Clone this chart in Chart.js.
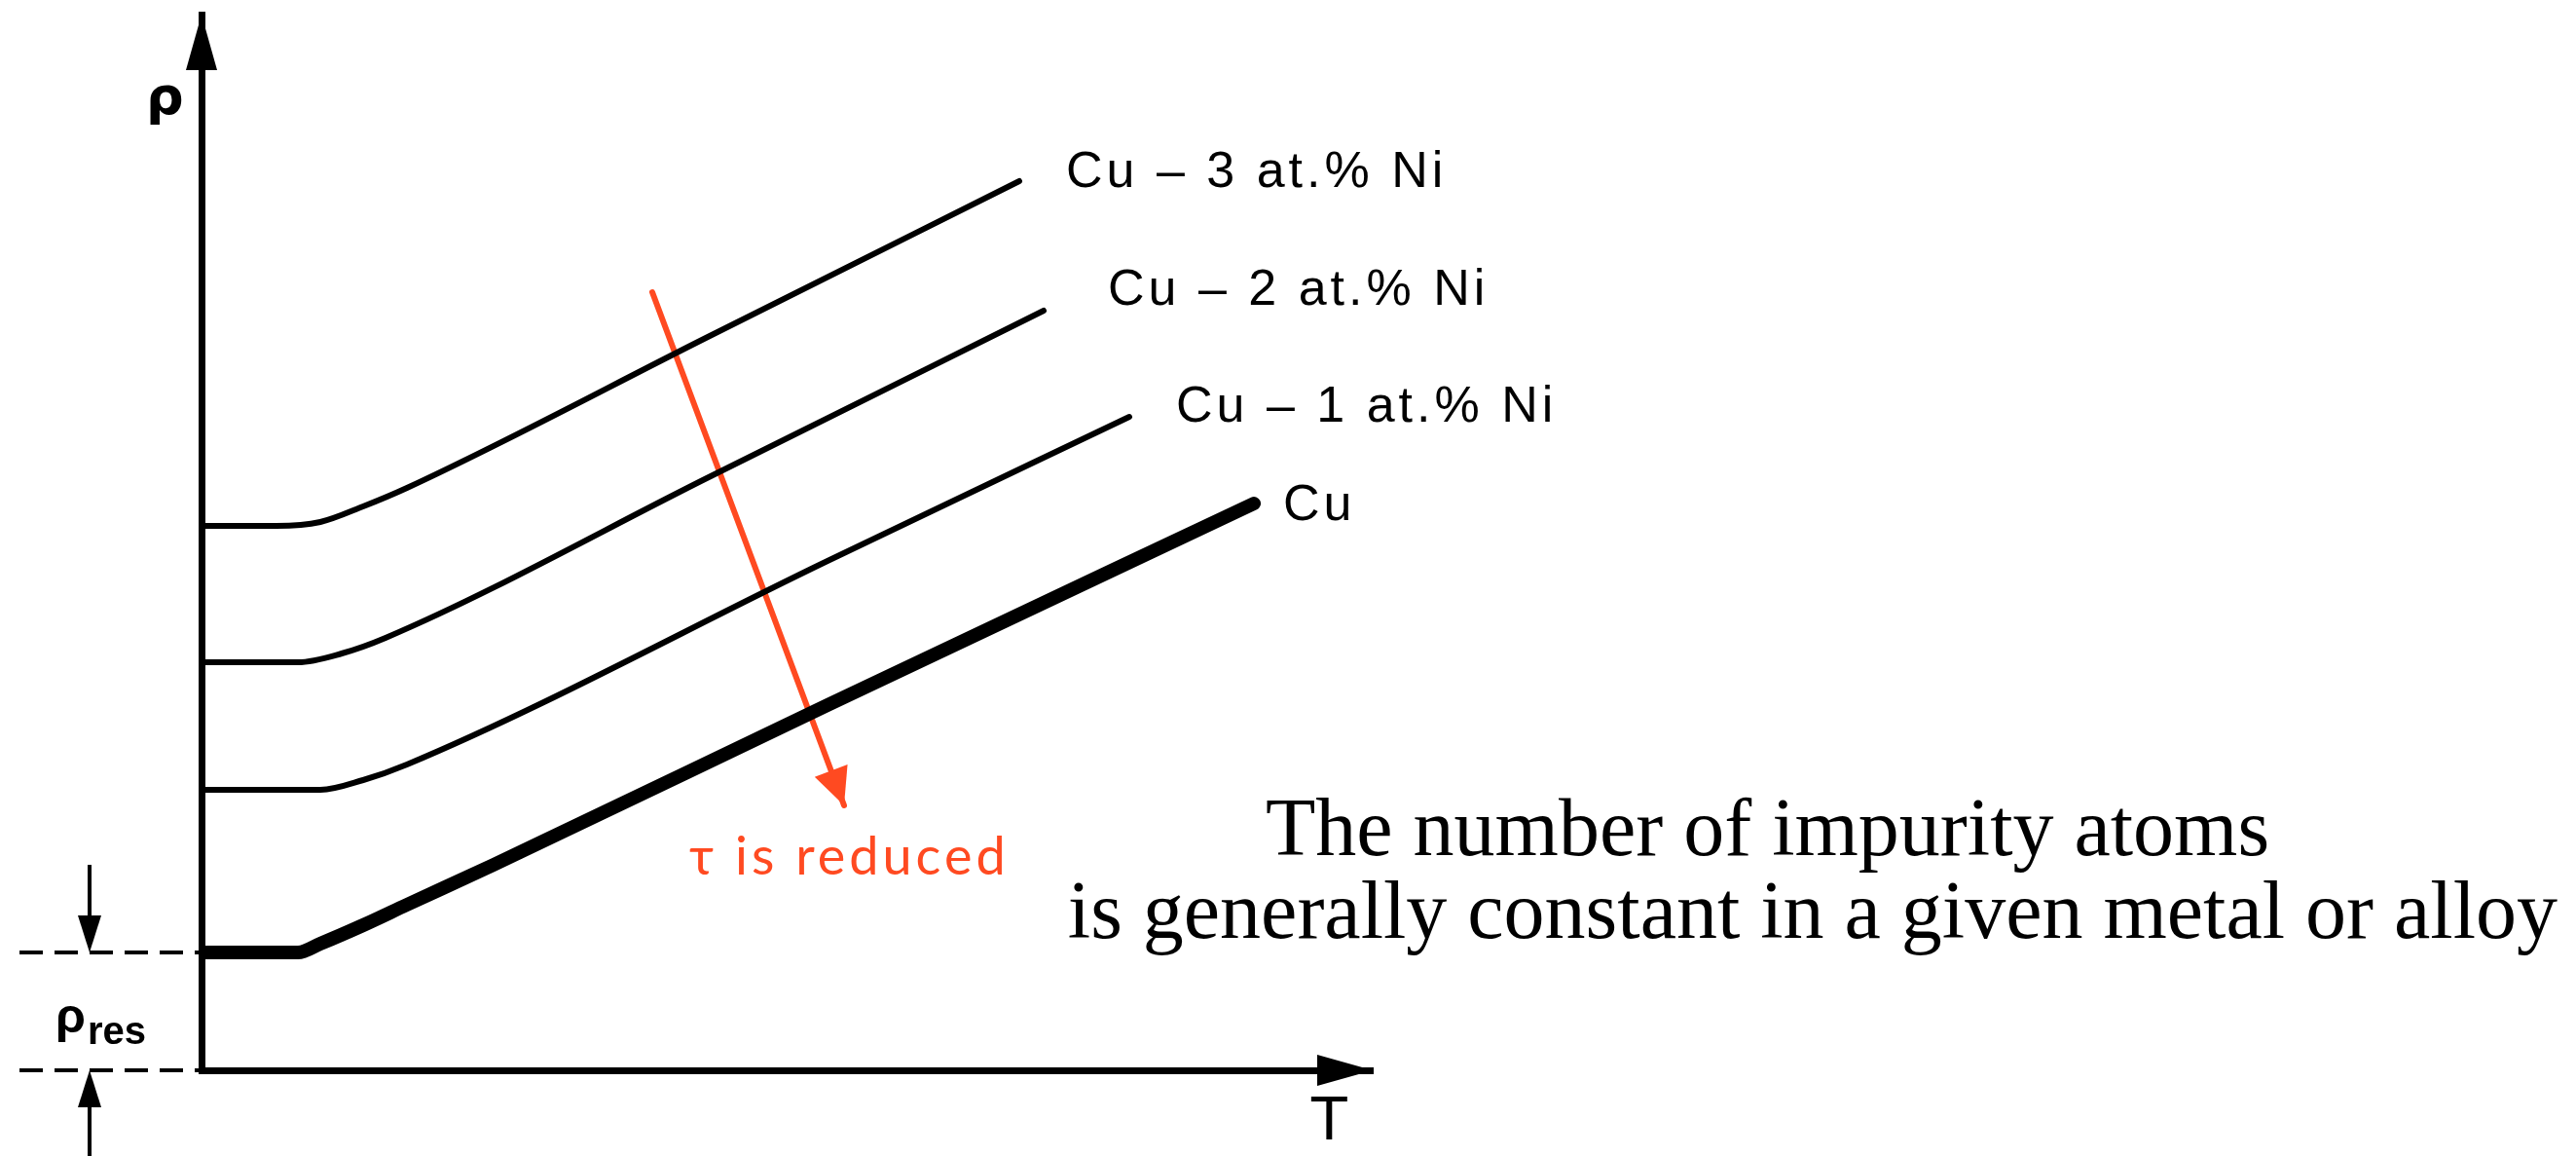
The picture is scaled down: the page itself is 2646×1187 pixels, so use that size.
<!DOCTYPE html>
<html>
<head>
<meta charset="utf-8">
<title>Resistivity of Cu and Cu–Ni alloys vs temperature</title>
<script src="https://cdn.jsdelivr.net/npm/chart.js@4.4.1/dist/chart.umd.min.js"></script>
<style>
  html, body { margin: 0; padding: 0; background: #fff; }
  #wrap { width: 2646px; height: 1187px; position: relative; }
</style>
</head>
<body>
<div id="wrap"><canvas id="chart"></canvas></div>
<script>
// Curves. Arbitrary units: T along x, rho along y.
const cuT = [0, 0.99, 1.22, 1.66, 2.11, 3.0, 6.43, 10.81];
const cuRho = [1.21, 1.21, 1.30, 1.49, 1.70, 2.11, 3.75, 5.82];

const ni1T = [0, 1.0, 1.22, 1.66, 2.11, 6.43, 9.53];
const ni1Rho = [2.88, 2.88, 2.88, 2.98, 3.14, 5.23, 6.71];

const ni2T = [0, 0.99, 1.44, 1.89, 5.23, 8.65];
const ni2Rho = [4.19, 4.19, 4.28, 4.44, 6.10, 7.80];

const ni3T = [0, 0.77, 1.22, 1.66, 2.11, 5.2, 8.40];
const ni3Rho = [5.59, 5.59, 5.63, 5.79, 5.98, 7.53, 9.13];

const seriesNames = ["Cu", "Cu – 1 at.% Ni", "Cu – 2 at.% Ni", "Cu – 3 at.% Ni"];

// red "tau is reduced" arrow, start -> tip
const tauArrowT = [4.63, 6.60];
const tauArrowRho = [7.99, 2.72];

const tMax = 12.03;
const rhoMax = 10.84;
const rhoRes = cuRho[0];

const RED = "#FF4A21";

const pts = (xs, ys) => xs.map((t, i) => ({ x: t, y: ys[i] }));

// where each curve label sits relative to the end of its curve (px)
const labelOffsets = [[30, 17], [48, 5], [66, -6], [48, 6]];

function arrowHead(ctx, tx, ty, dx, dy, len, half) {
  const bx = tx - dx * len, by = ty - dy * len;
  ctx.beginPath();
  ctx.moveTo(tx, ty);
  ctx.lineTo(bx - dy * half, by + dx * half);
  ctx.lineTo(bx + dy * half, by - dx * half);
  ctx.closePath();
  ctx.fill();
}

const figureExtras = {
  id: "figureExtras",
  afterDraw(chart) {
    const { ctx, chartArea: a, scales: { x, y } } = chart;
    ctx.save();
    ctx.fillStyle = "#000";
    ctx.strokeStyle = "#000";

    // axis arrowheads
    arrowHead(ctx, a.left, a.top, 0, -1, 57, 16);
    arrowHead(ctx, a.right, a.bottom, 1, 0, 57, 16);

    // axis letters
    ctx.textBaseline = "alphabetic";
    ctx.textAlign = "left";
    ctx.font = 'bold 54px "DejaVu Sans"';
    ctx.fillText("ρ", 150, 117);
    ctx.font = '60px "DejaVu Sans"';
    ctx.fillText("T", 1347, 1170);

    // rho_res bracket
    const yRes = y.getPixelForValue(rhoRes);
    const y0 = y.getPixelForValue(0);
    ctx.lineWidth = 4;
    ctx.setLineDash([24, 12]);
    [yRes, y0].forEach(py => {
      ctx.beginPath();
      ctx.moveTo(20, py);
      ctx.lineTo(a.left, py);
      ctx.stroke();
    });
    ctx.setLineDash([]);
    ctx.beginPath();
    ctx.moveTo(92, 888); ctx.lineTo(92, yRes - 30);
    ctx.moveTo(92, 1187); ctx.lineTo(92, y0 + 30);
    ctx.stroke();
    arrowHead(ctx, 92, yRes, 0, 1, 38, 12);
    arrowHead(ctx, 92, y0, 0, -1, 38, 12);
    ctx.font = 'bold 50px "Liberation Sans"';
    ctx.fillText("ρ", 57, 1060);
    const rw = ctx.measureText("ρ").width;
    ctx.font = 'bold 40px "Liberation Sans"';
    ctx.fillText("res", 57 + rw + 2, 1072);

    // curve labels
    ctx.font = '52px "Liberation Sans"';
    ctx.letterSpacing = "4px";
    chart.data.datasets.forEach((ds, i) => {
      if (i >= seriesNames.length) return;
      const last = ds.data[ds.data.length - 1];
      const px = x.getPixelForValue(last.x) + labelOffsets[i][0];
      const py = y.getPixelForValue(last.y) + labelOffsets[i][1];
      ctx.fillText(seriesNames[i], px, py);
    });

    // red arrow head + note
    const tx = x.getPixelForValue(tauArrowT[1]), ty = y.getPixelForValue(tauArrowRho[1]);
    const sx = x.getPixelForValue(tauArrowT[0]), sy = y.getPixelForValue(tauArrowRho[0]);
    const L = Math.hypot(tx - sx, ty - sy);
    ctx.fillStyle = RED;
    arrowHead(ctx, tx, ty, (tx - sx) / L, (ty - sy) / L, 38, 18);
    ctx.font = '54px Lato';
    ctx.fillText("τ is reduced", 708, 898);
    ctx.letterSpacing = "0px";

    // caption on the right
    ctx.fillStyle = "#000";
    ctx.font = '84px "Liberation Serif"';
    ctx.fillText("The number of impurity atoms", 1300, 878);
    ctx.textAlign = "right";
    ctx.fillText("is generally constant in a given metal or alloy", 2627, 963);
    ctx.restore();
  }
};

new Chart(document.getElementById("chart"), {
  type: "line",
  data: {
    datasets: [
      { label: seriesNames[0], data: pts(cuT, cuRho), borderWidth: 14 },
      { label: seriesNames[1], data: pts(ni1T, ni1Rho), borderWidth: 6 },
      { label: seriesNames[2], data: pts(ni2T, ni2Rho), borderWidth: 6 },
      { label: seriesNames[3], data: pts(ni3T, ni3Rho), borderWidth: 6 },
      { label: "τ", data: pts(tauArrowT, tauArrowRho), borderWidth: 6,
        borderColor: RED, cubicInterpolationMode: "default", tension: 0 }
    ]
  },
  options: {
    responsive: true,
    maintainAspectRatio: false,
    devicePixelRatio: 1,
    animation: false,
    layout: { padding: { left: 207, top: 15, right: 2646 - 1410, bottom: 1187 - 1099 } },
    elements: {
      point: { radius: 0, hoverRadius: 0 },
      line: {
        borderColor: "#000",
        cubicInterpolationMode: "monotone",
        borderCapStyle: "round",
        borderJoinStyle: "round",
        fill: false
      }
    },
    plugins: {
      legend: { display: false },
      tooltip: { enabled: false }
    },
    scales: {
      x: {
        type: "linear", min: 0, max: tMax,
        ticks: { display: false },
        grid: { display: false, drawTicks: false },
        border: { display: true, color: "#000", width: 7 }
      },
      y: {
        type: "linear", min: 0, max: rhoMax,
        ticks: { display: false },
        grid: { display: false, drawTicks: false },
        border: { display: true, color: "#000", width: 7 }
      }
    }
  },
  plugins: [figureExtras]
});
</script>
</body>
</html>
